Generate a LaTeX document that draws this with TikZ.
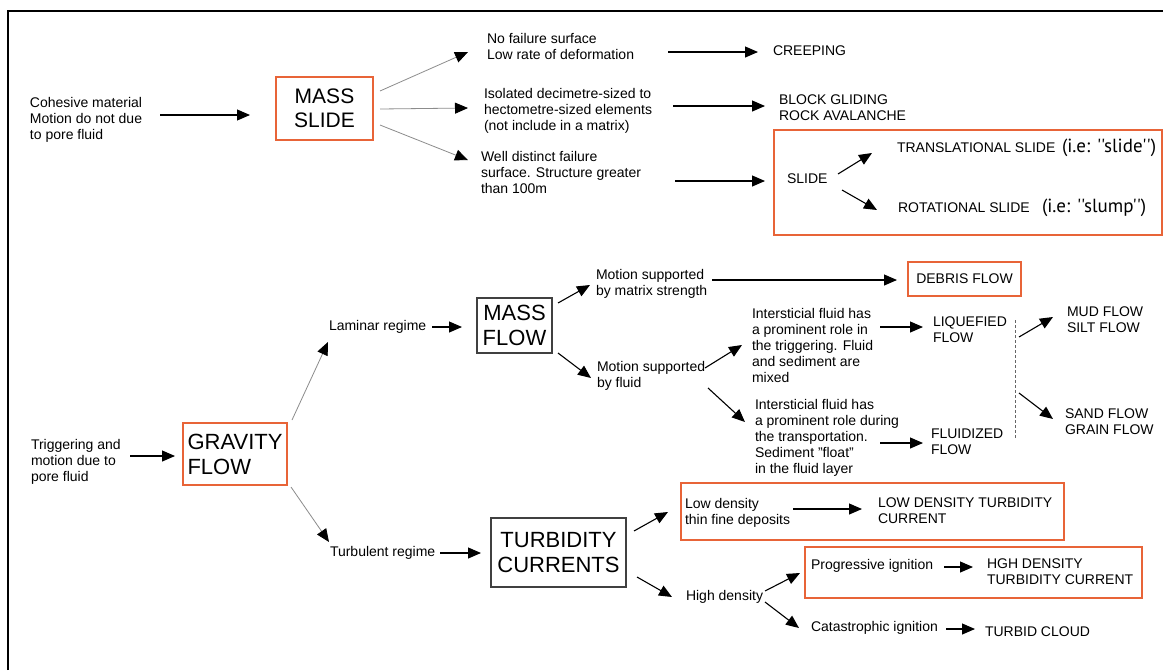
\documentclass[tikz,border=0pt]{standalone}
\usepackage{fontspec}
\setmainfont{Liberation Sans}
\newfontfamily\iefont{PT Sans}
\usetikzlibrary{arrows.meta,calc}
\definecolor{obr}{RGB}{232,100,56}
\begin{document}
\begin{tikzpicture}[x=1pt,y=-1pt,
  txt/.style={inner sep=0pt, outer sep=0pt, anchor=west, align=left, font=\fontsize{14}{16}\selectfont},
  big/.style={draw, inner sep=0pt, outer sep=0pt, align=center, font=\fontsize{22}{25}\selectfont},
  obox/.style={draw=obr, line width=2pt, inner sep=0pt, outer sep=0pt},
  gbox/.style={draw=black!75, line width=1.2pt},
  ietxt/.style={inner sep=0pt, outer sep=0pt, anchor=west, font=\iefont\fontsize{19}{22}\selectfont},
  arr/.style={-{Triangle[length=13pt,width=11pt]}, line width=1.1pt},
  garr/.style={-{Triangle[length=13pt,width=11pt,color=black]}, draw=black!45, line width=0.8pt}]

\useasboundingbox (0,0) rectangle (1163,670);
\fill[white] (0,0) rectangle (1163,670);
\draw[line width=2.2pt] (8,670) -- (8,11) -- (1163,11);

% ---- mass slide branch
\node[txt] (cohesive) at (30,120) {Cohesive material\\Motion do not due\\to pore fluid};
\node[big, obox, minimum width=97pt, minimum height=63pt, font=\fontsize{21}{24}\selectfont] (massslide) at (324.5,108.5) {MASS\\SLIDE};
\node[txt] (nofail) at (487,46) {No failure surface\\Low rate of deformation};
\node[txt] (creeping) at (773,51) {CREEPING};
\node[txt] (isolated) at (484,111) {Isolated decimetre-sized to\\hectometre-sized elements\\(not include in a matrix)};
\node[txt] (block) at (779,108) {BLOCK GLIDING\\ROCK AVALANCHE};
\node[txt] (well) at (481,172) {Well distinct failure\\surface. Structure greater\\than 100m};
\node[obox, minimum width=388pt, minimum height=105pt] (slidebox) at (968,182.5) {};
\node[txt] (slide) at (787,179) {SLIDE};
\node[txt] (trans) at (897,148) {TRANSLATIONAL SLIDE};
\node[ietxt] (ie1) at (1062,148) {(i.e: ''slide'')};
\node[txt] (rot) at (898,208) {ROTATIONAL SLIDE};
\node[ietxt] (ie2) at (1042,208) {(i.e: ''slump'')};

% ---- mass flow branch
\node[txt, obox, anchor=center, minimum width=113pt, minimum height=34pt] (debris) at (964.5,279) {DEBRIS FLOW};
\node[txt] (matrix) at (596,284) {Motion supported\\by matrix strength};
\node[big, gbox, minimum width=75pt, minimum height=55pt] (massflow) at (514.5,325.5) {MASS\\FLOW};
\node[txt] (laminar) at (329,327) {Laminar regime};
\node[big, obox, minimum width=104pt, minimum height=62pt, align=left] (gravity) at (235,454) {GRAVITY\\FLOW};
\node[txt] (trig) at (31,462) {Triggering and\\motion due to\\pore fluid};
\node[txt] (bfluid) at (597,376) {Motion supported\\by fluid};
\node[txt] (inter1) at (752,345) {Intersticial fluid has\\a prominent role in\\the triggering. Fluid\\and sediment are\\mixed};
\node[txt] (inter2) at (755,438) {Intersticial fluid has\\a prominent role during\\the transportation.\\Sediment ''float''\\in the fluid layer};
\node[txt] (liquefied) at (933,330) {LIQUEFIED\\FLOW};
\node[txt] (fluidized) at (931,442) {FLUIDIZED\\FLOW};
\coordinate (dtop) at (1015,320);
\coordinate (dbot) at (1015,438);
\draw[black!60, line width=0.8pt, dash pattern=on 3pt off 2pt] (dtop) -- (dbot);
\node[txt] (mud) at (1067,320) {MUD FLOW\\SILT FLOW};
\node[txt] (sand) at (1065,422) {SAND FLOW\\GRAIN FLOW};

% ---- turbidity branch
\node[txt] (turbulent) at (330,553) {Turbulent regime};
\node[big, gbox, minimum width=135pt, minimum height=69pt] (turbidity) at (558.5,552.5) {TURBIDITY\\CURRENTS};
\node[obox, minimum width=383pt, minimum height=57pt] (lowbox) at (872.5,511.5) {};
\node[txt] (lowdens) at (685,513) {Low density\\thin fine deposits};
\node[txt] (lowdtc) at (878,511) {LOW DENSITY TURBIDITY\\CURRENT};
\node[txt] (highdens) at (686,597) {High density};
\node[obox, minimum width=337pt, minimum height=51pt] (progbox) at (973.5,572.5) {};
\node[txt] (prog) at (811,566) {Progressive ignition};
\node[txt] (hgh) at (987,572) {HGH DENSITY\\TURBIDITY CURRENT};
\node[txt] (cata) at (811,628) {Catastrophic ignition};
\node[txt] (turbid) at (985,632) {TURBID CLOUD};

% ---- connectors
\draw[arr] ($(cohesive.west)+(130,-5)$) -- ($(massslide.west)+(-26,6.5)$);
\draw[garr] ($(massslide.east)+(7,-17.5)$) -- ($(nofail.west)+(-19,6)$);
\draw[garr] ($(massslide.east)+(7,0.5)$) -- ($(isolated.west)+(-16,-3)$);
\draw[garr] ($(massslide.east)+(7,16.5)$) -- ($(well.west)+(-13,-12)$);
\draw[arr] ($(nofail.west)+(181,6)$) -- ($(creeping.west)+(-15,1)$);
\draw[arr] ($(isolated.west)+(189,-5)$) -- ($(block.west)+(-14,-2)$);
\draw[arr] ($(well.west)+(194,9)$) -- ($(slide.west)+(-22,2)$);
\draw[arr] ($(slide.west)+(51,-5)$) -- ($(trans.west)+(-25,5)$);
\draw[arr] ($(slide.west)+(55,11)$) -- ($(rot.west)+(-21,2)$);

\draw[arr] ($(matrix.west)+(116,-4)$) -- ($(debris.west)+(-11,1)$);
\draw[arr] ($(massflow.east)+(6,-22.5)$) -- ($(matrix.west)+(-6,1)$);
\draw[arr] ($(massflow.east)+(6,27.5)$) -- ($(bfluid.west)+(-6,2)$);
\draw[arr] ($(laminar.west)+(103,0)$) -- ($(massflow.west)+(-15,1.5)$);
\draw[garr] ($(gravity.east)+(5,-34)$) -- ($(laminar.west)+(-1,15)$);
\draw[arr] ($(trig.west)+(99,-6)$) -- ($(gravity.west)+(-8,2)$);
\draw[garr] ($(gravity.east)+(4,33)$) -- ($(turbulent.west)+(-1,-11)$);
\draw[arr] ($(bfluid.west)+(108,-8)$) -- ($(inter1.west)+(-10,0)$);
\draw[arr] ($(bfluid.west)+(111,12)$) -- ($(inter2.west)+(-10,-16)$);
\draw[arr] ($(inter1.west)+(128,-18)$) -- ($(liquefied.west)+(-10,-3)$);
\draw[arr] ($(inter2.west)+(125,5)$) -- ($(fluidized.west)+(-8,1)$);
\draw[arr] ($(dtop)+(4,17)$) -- ($(mud.west)+(-14,-3)$);
\draw[arr] ($(dbot)+(4,-45)$) -- ($(sand.west)+(-12,-3)$);

\draw[arr] ($(turbulent.west)+(110,0)$) -- ($(turbidity.west)+(-10,0.5)$);
\draw[arr] ($(turbidity.east)+(8,-21.5)$) -- ($(lowdens.west)+(-17,-1)$);
\draw[arr] ($(turbidity.east)+(11,24.5)$) -- ($(highdens.west)+(-14,0)$);
\draw[arr] ($(lowdens.west)+(108,-4)$) -- ($(lowdtc.west)+(-16,-2)$);
\draw[arr] ($(highdens.west)+(79,-6)$) -- ($(prog.west)+(-11,7)$);
\draw[arr] ($(highdens.west)+(79,5)$) -- ($(cata.west)+(-12,0)$);
\draw[arr] ($(prog.west)+(133,1)$) -- ($(hgh.west)+(-14,-5)$);
\draw[arr] ($(cata.west)+(135,1)$) -- ($(turbid.west)+(-10,-3)$);
\end{tikzpicture}
\end{document}
